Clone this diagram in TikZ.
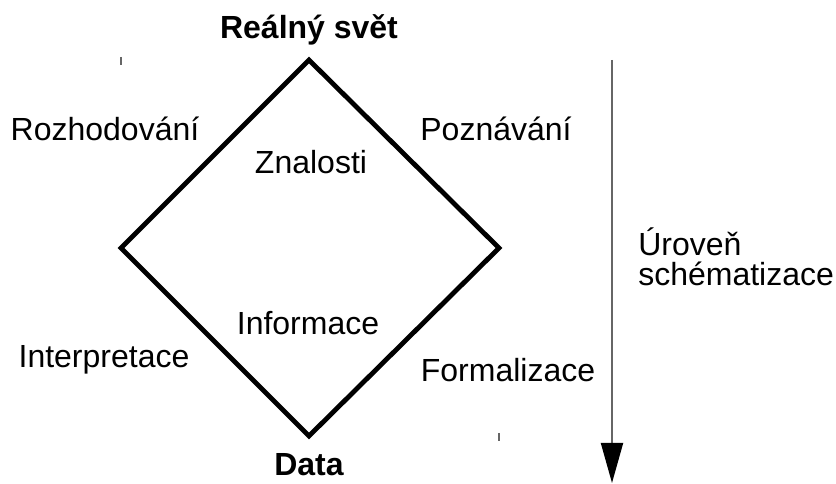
\documentclass[tikz,border=0pt]{standalone}
\usepackage{fontspec}
\setmainfont{Liberation Sans}
\usetikzlibrary{arrows.meta, positioning}

\tikzset{
  popis/.style={font=\fontsize{24}{28}\selectfont, inner sep=0pt},
  hlavni/.style={font=\fontsize{24}{28}\selectfont\bfseries, inner sep=0pt},
  znacka/.style={gray!80!black, line width=1.4pt}
}

\begin{document}
\begin{tikzpicture}[x=0.75pt, y=-0.75pt]
  \useasboundingbox (0,0) rectangle (836,484);

  % Kosoctverec
  \coordinate (horni) at (309,60);
  \coordinate (levy) at (121,248);
  \coordinate (pravy) at (499,248);
  \coordinate (dolni) at (309,436);
  \draw[line width=3.6pt, line join=miter] (horni) -- (pravy) -- (dolni) -- (levy) -- cycle;

  % Popisky
  \node[hlavni] (svet) at (309,30) {Reálný svět};
  \node[hlavni] (data) at (309,465) {Data};
  \node[popis] (rozhod) at (105,129) {Rozhodování};
  \node[popis] (pozn) at (496,129) {Poznávání};
  \node[popis] (znal) at (311,162) {Znalosti};
  \node[popis] (info) at (308,323) {Informace};
  \node[popis] (interp) at (104,360) {Interpretace};
  \node[popis] (formal) at (508,370) {Formalizace};
  \node[popis, anchor=west] (uroven) at (638,242) {Úroveň};
  \node[popis, anchor=west] (schem) at (638,274) {schématizace};

  % Drobne znacky
  \draw[znacka] (121,57) -- (121,65);
  \draw[znacka] (499,433) -- (499,441);

  % Sipka
  \coordinate (sipka1) at (612,60);
  \coordinate (sipka2) at (612,483);
  \draw[znacka, -{Triangle[length=30pt, width=16.5pt, black]}] (sipka1) -- (sipka2);
\end{tikzpicture}
\end{document}
